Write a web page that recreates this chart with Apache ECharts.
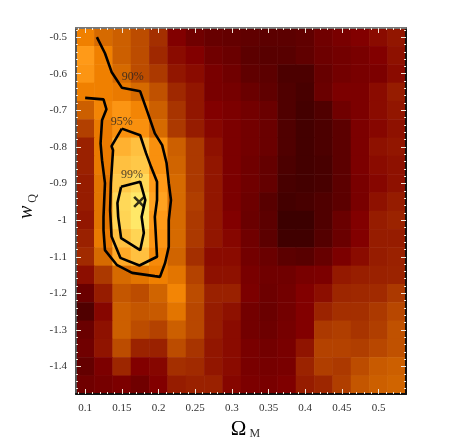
<!DOCTYPE html>
<html>
<head>
<meta charset="utf-8">
<style>
html, body { margin: 0; padding: 0; background: #fff; }
#main { width: 463px; height: 439px; }
</style>
<script src="https://cdn.jsdelivr.net/npm/echarts@6/dist/echarts.min.js"></script>
</head>
<body>
<div id="main"></div>
<script>
// cell centres
const omegaM = ['0.1', '0.125', '0.15', '0.175', '0.2', '0.225', '0.25', '0.275', '0.3', '0.325', '0.35', '0.375', '0.4', '0.425', '0.45', '0.475', '0.5', '0.525'];
const wQ = ['-0.5', '-0.55', '-0.6', '-0.65', '-0.7', '-0.75', '-0.8', '-0.85', '-0.9', '-0.95', '-1', '-1.05', '-1.1', '-1.15', '-1.2', '-1.25', '-1.3', '-1.35', '-1.4', '-1.45'];

// likelihood level of each cell (0 dark .. 100 bright), one row per wQ
const level = [
    [70, 62, 58, 50, 38, 20, 14, 11, 10, 9, 8, 8, 9, 14, 17, 20, 24, 28],
    [80, 70, 58, 50, 35, 24, 20, 14, 12, 8, 7, 7, 9, 13, 15, 17, 20, 26],
    [78, 70, 62, 50, 42, 28, 24, 17, 14, 9, 8, 4, 4, 11, 15, 17, 18, 24],
    [70, 70, 68, 62, 52, 35, 28, 17, 16, 12, 9, 5, 3, 12, 18, 18, 24, 30],
    [58, 72, 78, 72, 58, 40, 28, 20, 18, 15, 12, 5, 2, 5, 14, 18, 24, 28],
    [45, 68, 76, 76, 62, 42, 30, 22, 18, 15, 12, 5, 2, 4, 8, 18, 22, 26],
    [32, 68, 86, 90, 76, 58, 42, 26, 18, 15, 12, 5, 2, 4, 8, 18, 26, 28],
    [32, 68, 90, 92, 76, 60, 42, 28, 18, 14, 10, 4, 2, 3, 8, 18, 24, 26],
    [30, 66, 92, 96, 80, 62, 42, 28, 18, 14, 10, 3, 2, 3, 8, 17, 22, 26],
    [30, 66, 96, 100, 82, 62, 44, 28, 18, 13, 7, 2, 3, 5, 8, 17, 26, 30],
    [28, 66, 95, 100, 80, 62, 42, 28, 20, 12, 8, 0, 0, 5, 12, 20, 30, 33],
    [32, 68, 90, 95, 78, 62, 42, 28, 22, 14, 8, 1, 1, 6, 12, 20, 30, 30],
    [36, 62, 84, 90, 74, 60, 38, 24, 24, 15, 12, 8, 7, 11, 18, 24, 30, 32],
    [25, 42, 62, 66, 70, 66, 46, 26, 26, 17, 14, 14, 17, 18, 29, 31, 32, 33],
    [12, 30, 54, 50, 60, 72, 50, 32, 32, 18, 13, 15, 20, 25, 34, 35, 36, 42],
    [5, 22, 58, 54, 56, 66, 48, 30, 26, 15, 12, 15, 20, 33, 38, 38, 42, 48],
    [12, 26, 58, 50, 46, 58, 48, 30, 24, 15, 13, 16, 20, 42, 44, 40, 44, 52],
    [14, 27, 50, 33, 32, 50, 40, 28, 24, 17, 15, 17, 27, 46, 46, 44, 48, 52],
    [10, 18, 34, 20, 22, 38, 36, 28, 24, 17, 16, 17, 33, 44, 42, 50, 56, 58],
    [14, 16, 18, 14, 20, 30, 32, 32, 22, 18, 17, 19, 30, 34, 44, 54, 58, 60]
];

// contours as [omegaM, wQ]
const contour90 = [[0.116, -0.5], [0.127, -0.544], [0.136, -0.595], [0.15, -0.638], [0.175, -0.648], [0.185, -0.705], [0.195, -0.763], [0.205, -0.795], [0.211, -0.844], [0.214, -0.899], [0.217, -0.945], [0.214, -1], [0.214, -1.073], [0.209, -1.117], [0.202, -1.155], [0.195, -1.153], [0.164, -1.144], [0.143, -1.122], [0.127, -1.082], [0.125, -1.027], [0.125, -0.991], [0.127, -0.899], [0.123, -0.836], [0.121, -0.79], [0.123, -0.727], [0.129, -0.697], [0.125, -0.67], [0.1, -0.666]];
const contour95 = [[0.15, -0.75], [0.175, -0.768], [0.183, -0.817], [0.19, -0.855], [0.198, -0.895], [0.198, -0.945], [0.195, -0.991], [0.198, -1.1], [0.174, -1.124], [0.148, -1.103], [0.136, -1.045], [0.134, -0.973], [0.135, -0.899], [0.138, -0.809], [0.136, -0.798], [0.15, -0.75]];
const contour99 = [[0.149, -0.909], [0.175, -0.895], [0.182, -0.945], [0.177, -0.991], [0.18, -1.035], [0.175, -1.082], [0.149, -1.049], [0.145, -0.991], [0.144, -0.953], [0.149, -0.909]];
const contourLabels = [[0.165, -0.609, '90%'], [0.15, -0.732, '95%'], [0.164, -0.877, '99%']];
const bestFit = [[0.1736, -0.95]];

// ticks
const xMajor = [0.1, 0.15, 0.2, 0.25, 0.3, 0.35, 0.4, 0.45, 0.5];
const yMajor = [-0.5, -0.6, -0.7, -0.8, -0.9, -1, -1.1, -1.2, -1.3, -1.4];
const xMinor = [];
for (let i = 9; i <= 53; i++) xMinor.push(i / 100);
const yMinor = [];
for (let i = 24; i <= 73; i++) yMinor.push(-i / 50);

const ramp = ['#3c0000', '#640000', '#820000', '#961c00', '#a83400', '#bc4c00', '#d06400', '#f08000', '#ff9a18', '#ffc040', '#ffe868'];
const tickColor = '#f2e6d8';
const labelFont = '"Liberation Serif", serif';

const cells = [];
level.forEach((row, r) => row.forEach((v, c) => cells.push([c, r, v])));

function valueAxis(dim, pos, ticks, len, lineColor, extra) {
    const range = dim === 'x' ? { min: 0.0875, max: 0.5375 } : { min: -1.475, max: -0.475 };
    return Object.assign({
        type: 'value',
        position: pos,
        min: range.min,
        max: range.max,
        splitLine: { show: false },
        axisLine: { show: !!lineColor, onZero: false, lineStyle: { color: lineColor || '#000', width: 2 } },
        axisTick: { show: true, inside: true, length: len, customValues: ticks, lineStyle: { color: tickColor, width: 1 } },
        axisLabel: { show: false },
        z: 5
    }, extra || {});
}

const chart = echarts.init(document.getElementById('main'));
chart.setOption({
    animation: false,
    backgroundColor: '#fff',
    grid: { left: 76, top: 28, width: 330, height: 366, outerBoundsMode: 'none' },
    visualMap: { show: false, seriesIndex: 0, dimension: 2, min: 0, max: 100, inRange: { color: ramp } },
    xAxis: [
        { type: 'category', data: omegaM, show: false },
        valueAxis('x', 'bottom', xMajor, 5, '#111', {
            axisLabel: { show: true, customValues: xMajor, margin: 9, fontFamily: labelFont, fontSize: 11, color: '#333' },
            name: '{a|Ω}{b|M}',
            nameLocation: 'middle',
            nameGap: 19,
            nameTextStyle: {
                rich: {
                    a: { fontFamily: labelFont, fontSize: 21, color: '#000', padding: [0, 0, 0, 9] },
                    b: { fontFamily: labelFont, fontSize: 12, color: '#333', verticalAlign: 'bottom', padding: [6, 0, 0, 3] }
                }
            }
        }),
        valueAxis('x', 'bottom', xMinor, 2),
        valueAxis('x', 'top', xMajor, 5, '#777'),
        valueAxis('x', 'top', xMinor, 2)
    ],
    yAxis: [
        { type: 'category', data: wQ, inverse: true, show: false },
        valueAxis('y', 'left', yMajor, 5, '#555', {
            axisLabel: { show: true, customValues: yMajor, margin: 9, fontFamily: labelFont, fontSize: 11, color: '#333' },
            name: '{a|w}{b|Q}',
            nameLocation: 'middle',
            nameGap: 28,
            nameTextStyle: {
                rich: {
                    a: { fontFamily: labelFont, fontStyle: 'italic', fontSize: 20, color: '#111', padding: [0, 0, 0, 9] },
                    b: { fontFamily: labelFont, fontSize: 12, color: '#333', verticalAlign: 'bottom', padding: [12, 0, 0, 3] }
                }
            }
        }),
        valueAxis('y', 'left', yMinor, 2),
        valueAxis('y', 'right', yMajor, 5, '#111'),
        valueAxis('y', 'right', yMinor, 2)
    ],
    series: [
        { type: 'heatmap', data: cells, xAxisIndex: 0, yAxisIndex: 0, emphasis: { disabled: true }, progressive: 0 },
        // keep the minor and top/right axes alive
        { type: 'line', data: [], xAxisIndex: 2, yAxisIndex: 2 },
        { type: 'line', data: [], xAxisIndex: 3, yAxisIndex: 3 },
        { type: 'line', data: [], xAxisIndex: 4, yAxisIndex: 4 },
        ...[contour90, contour95, contour99].map(c => ({
            type: 'line', data: c, xAxisIndex: 1, yAxisIndex: 1, showSymbol: false, smooth: false,
            lineStyle: { color: '#000', width: 2.6 }, z: 6, silent: true
        })),
        {
            type: 'scatter', data: contourLabels, xAxisIndex: 1, yAxisIndex: 1, symbolSize: 0, z: 7,
            label: { show: true, position: 'inside', formatter: p => p.data[2], fontFamily: labelFont, fontSize: 12, color: '#222' }
        },
        {
            type: 'scatter', data: bestFit, xAxisIndex: 1, yAxisIndex: 1, z: 7, symbol: 'path://M0 0L10 10M10 0L0 10', symbolSize: 10,
            itemStyle: { color: 'none', borderColor: '#000', borderWidth: 2.6 }
        }
    ]
});
</script>
</body>
</html>
